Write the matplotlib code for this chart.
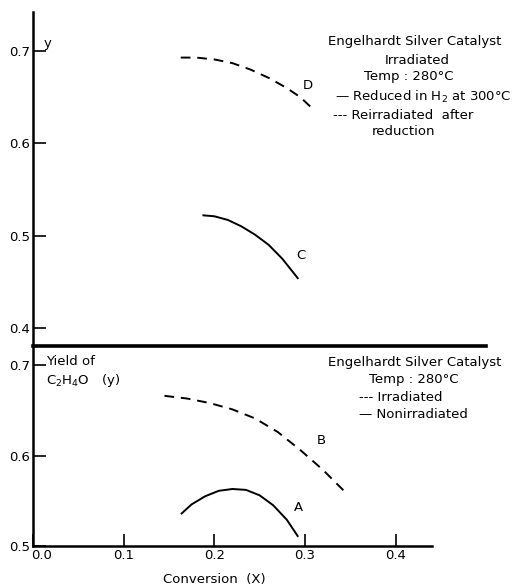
import matplotlib.pyplot as plt
import matplotlib.transforms as mtransforms

# top panel: irradiated catalyst, curves C (reduced) and D (reirradiated)
conv_D = [0.163, 0.18, 0.20, 0.22, 0.24, 0.26, 0.28, 0.295, 0.308]
yield_D = [0.693, 0.693, 0.691, 0.687, 0.680, 0.671, 0.660, 0.650, 0.638]
conv_C = [0.188, 0.20, 0.215, 0.23, 0.245, 0.26, 0.275, 0.292]
yield_C = [0.522, 0.521, 0.517, 0.510, 0.501, 0.490, 0.475, 0.454]

# bottom panel: curves A (nonirradiated) and B (irradiated)
conv_B = [0.145, 0.17, 0.195, 0.22, 0.245, 0.27, 0.295, 0.32, 0.344]
yield_B = [0.666, 0.663, 0.658, 0.651, 0.641, 0.626, 0.606, 0.584, 0.560]
conv_A = [0.164, 0.175, 0.19, 0.205, 0.22, 0.235, 0.25, 0.265, 0.28, 0.292]
yield_A = [0.536, 0.546, 0.555, 0.561, 0.563, 0.562, 0.556, 0.545, 0.529, 0.511]

top_yticks = [0.4, 0.5, 0.6, 0.7]
bot_yticks = [0.5, 0.6, 0.7]
xticks = [0.0, 0.1, 0.2, 0.3, 0.4]

plt.rcParams['font.family'] = 'DejaVu Sans'
fs = 9.5

fig = plt.figure(figsize=(5.2, 5.86), dpi=100)
ax1 = fig.add_axes([0.0635, 0.4096, 0.8715, 0.5699])
ax2 = fig.add_axes([0.0635, 0.0683, 0.8715, 0.3413])

for ax in (ax1, ax2):
    ax.set_xlim(0, 0.5)
    ax.spines['top'].set_visible(False)
    ax.spines['right'].set_visible(False)
    ax.spines['left'].set_linewidth(1.8)
    ax.tick_params(axis='both', direction='in', length=9, width=1.2, labelsize=fs, pad=2)
    ax.patch.set_alpha(0)

# top panel
ax1.set_ylim(0.3804, 0.7424)
ax1.spines['bottom'].set_linewidth(2.6)
ax1.set_xticks([])
ax1.set_yticks(top_yticks)
ax1.set_yticklabels(['%.1f' % v for v in top_yticks])
ax1.plot(conv_D, yield_D, color='black', lw=1.4, dashes=(5, 3.5))
ax1.plot(conv_C, yield_C, color='black', lw=1.4)
ax1.text(0.303, 0.663, 'D', fontsize=fs, ha='center', va='center')
ax1.text(0.296, 0.479, 'C', fontsize=fs, ha='center', va='center')
ax1.text(0.012, 0.708, 'y', fontsize=fs, va='center')
ax1.text(0.421, 0.710, 'Engelhardt Silver Catalyst', fontsize=fs, ha='center', va='center')
ax1.text(0.424, 0.690, 'Irradiated', fontsize=fs, ha='center', va='center')
ax1.text(0.414, 0.673, 'Temp : 280°C', fontsize=fs, ha='center', va='center')
ax1.text(0.333, 0.650, '— Reduced in H$_2$ at 300°C', fontsize=fs, va='center')
ax1.text(0.331, 0.630, '--- Reirradiated  after', fontsize=fs, va='center')
ax1.text(0.409, 0.613, 'reduction', fontsize=fs, ha='center', va='center')

# bottom panel
ax2.set_ylim(0.5, 0.7211)
ax2.spines['bottom'].set_linewidth(1.8)
ax2.spines['bottom'].set_bounds(0, 0.44)
ax2.set_xticks(xticks)
ax2.set_xticklabels(['%.1f' % v for v in xticks])
ax2.set_yticks(bot_yticks)
ax2.set_yticklabels(['%.1f' % v for v in bot_yticks])
shift = mtransforms.ScaledTranslation(9 / 100, 0, fig.dpi_scale_trans)
first = ax2.get_xticklabels()[0]
first.set_transform(first.get_transform() + shift)
ax2.plot(conv_B, yield_B, color='black', lw=1.4, dashes=(5, 3.5))
ax2.plot(conv_A, yield_A, color='black', lw=1.4)
ax2.text(0.318, 0.617, 'B', fontsize=fs, ha='center', va='center')
ax2.text(0.293, 0.542, 'A', fontsize=fs, ha='center', va='center')
ax2.text(0.0144, 0.7044, 'Yield of', fontsize=fs, va='center')
ax2.text(0.0144, 0.6833, 'C$_2$H$_4$O   (y)', fontsize=fs, va='center')
ax2.text(0.421, 0.7033, 'Engelhardt Silver Catalyst', fontsize=fs, ha='center', va='center')
ax2.text(0.420, 0.6844, 'Temp : 280°C', fontsize=fs, ha='center', va='center')
ax2.text(0.360, 0.6644, '--- Irradiated', fontsize=fs, va='center')
ax2.text(0.360, 0.6456, '— Nonirradiated', fontsize=fs, va='center')
ax2.set_xlabel('Conversion  (X)', fontsize=fs)
ax2.xaxis.set_label_coords(0.40, -0.17)
ax2.xaxis.label.set_va('center')

fig.savefig('out.png', dpi=100)
